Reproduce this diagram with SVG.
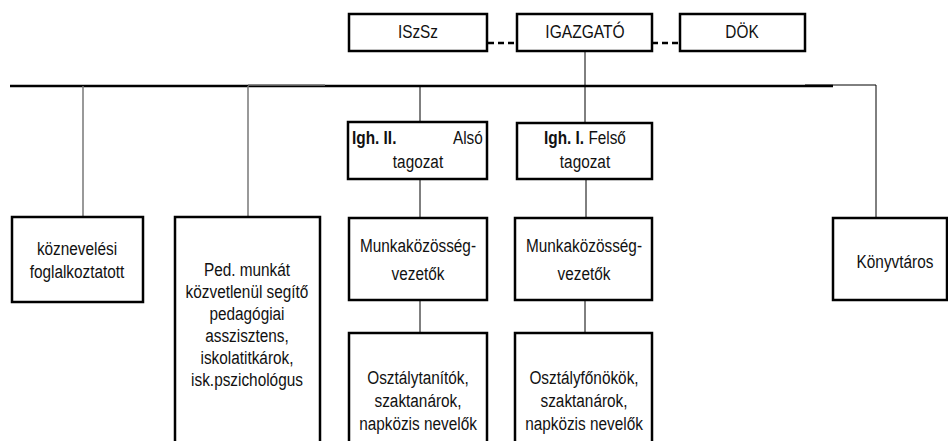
<svg xmlns="http://www.w3.org/2000/svg" width="948" height="441" viewBox="0 0 948 441">
<style>
.box{fill:#fff;stroke:#000;stroke-width:2.5}
.t{font-family:"Liberation Sans",Arial,sans-serif;font-size:18px;fill:#111;text-anchor:middle}
.s{text-anchor:start}
.b{font-weight:bold}
.ln{stroke:#000;stroke-width:1;fill:none}
.gr{stroke:#777;stroke-width:1.5;fill:none}
.main{stroke:#000;stroke-width:2.5;fill:none}
.dash{stroke:#000;stroke-width:2.5;stroke-dasharray:6 4;fill:none}
</style>
<rect width="948" height="441" fill="#fff"/>
<g id="connectors">
<line class="main" x1="10" y1="86" x2="833" y2="86"/>
<line class="gr" x1="248" y1="85" x2="325" y2="85"/>
<polyline class="ln" points="805,85 876,85 876,218"/>
<line class="dash" x1="488" y1="43" x2="517" y2="43"/>
<line class="dash" x1="652" y1="43" x2="680" y2="43"/>
<line class="ln" x1="585" y1="51" x2="585" y2="123"/>
<line class="ln" x1="420" y1="86" x2="420" y2="122"/>
<line class="gr" x1="83" y1="86" x2="83" y2="217"/>
<line class="gr" x1="248" y1="86" x2="248" y2="217"/>
<line class="ln" x1="420" y1="179" x2="420" y2="218"/>
<line class="ln" x1="420" y1="300" x2="420" y2="333"/>
<line class="ln" x1="586" y1="179" x2="586" y2="218"/>
<line class="ln" x1="585" y1="300" x2="585" y2="333"/>
</g>
<g id="iszsz"><rect class="box" x="349" y="14" width="138" height="37"/><text class="t" x="418" y="38" textLength="40.1" lengthAdjust="spacingAndGlyphs">ISzSz</text></g>
<g id="igazgato"><rect class="box" x="517" y="14" width="135" height="37"/><text class="t" x="585" y="38" textLength="79.4" lengthAdjust="spacingAndGlyphs">IGAZGATÓ</text></g>
<g id="dok"><rect class="box" x="680" y="14" width="125" height="37"/><text class="t" x="742" y="38" textLength="33.3" lengthAdjust="spacingAndGlyphs">DÖK</text></g>
<g id="igh2"><rect class="box" x="348" y="122" width="139" height="57"/>
<text class="t b s" x="352" y="144" textLength="44.4" lengthAdjust="spacingAndGlyphs">Igh. II.</text>
<text class="t s" x="453" y="144" textLength="29.8" lengthAdjust="spacingAndGlyphs">Alsó</text>
<text class="t" x="418" y="168" textLength="50.3" lengthAdjust="spacingAndGlyphs">tagozat</text></g>
<g id="igh1"><rect class="box" x="517" y="123" width="135" height="56"/>
<text class="t b s" x="544" y="144" textLength="40.1" lengthAdjust="spacingAndGlyphs">Igh. I.</text>
<text class="t s" x="588.4" y="144" textLength="37.5" lengthAdjust="spacingAndGlyphs">Felső</text>
<text class="t" x="585" y="168" textLength="50.3" lengthAdjust="spacingAndGlyphs">tagozat</text></g>
<g id="koznevelesi"><rect class="box" x="12" y="217" width="131" height="85"/>
<text class="t" x="77" y="255" textLength="80.2" lengthAdjust="spacingAndGlyphs">köznevelési</text>
<text class="t" x="77" y="278" textLength="94.7" lengthAdjust="spacingAndGlyphs">foglalkoztatott</text></g>
<g id="ped"><rect class="box" x="175" y="217" width="145" height="240"/>
<text class="t" x="247" y="276" textLength="86.2" lengthAdjust="spacingAndGlyphs">Ped. munkát</text>
<text class="t" x="247" y="298" textLength="122.8" lengthAdjust="spacingAndGlyphs">közvetlenül segítő</text>
<text class="t" x="247" y="320" textLength="75.1" lengthAdjust="spacingAndGlyphs">pedagógiai</text>
<text class="t" x="247" y="342" textLength="83.6" lengthAdjust="spacingAndGlyphs">asszisztens,</text>
<text class="t" x="247" y="364" textLength="93" lengthAdjust="spacingAndGlyphs">iskolatitkárok,</text>
<text class="t" x="247" y="386" textLength="111.8" lengthAdjust="spacingAndGlyphs">isk.pszichológus</text></g>
<g id="munka2"><rect class="box" x="349" y="218" width="138" height="82"/>
<text class="t" x="418" y="252" textLength="116" lengthAdjust="spacingAndGlyphs">Munkaközösség-</text>
<text class="t" x="418" y="280" textLength="52.9" lengthAdjust="spacingAndGlyphs">vezetők</text></g>
<g id="munka1"><rect class="box" x="515" y="218" width="137" height="82"/>
<text class="t" x="584" y="252" textLength="116" lengthAdjust="spacingAndGlyphs">Munkaközösség-</text>
<text class="t" x="584" y="280" textLength="52.9" lengthAdjust="spacingAndGlyphs">vezetők</text></g>
<g id="osztalytanitok"><rect class="box" x="349" y="333" width="138" height="130"/>
<text class="t" x="418" y="384" textLength="101.5" lengthAdjust="spacingAndGlyphs">Osztálytanítók,</text>
<text class="t" x="418" y="407" textLength="87" lengthAdjust="spacingAndGlyphs">szaktanárok,</text>
<text class="t" x="418" y="430" textLength="117.7" lengthAdjust="spacingAndGlyphs">napközis nevelők</text></g>
<g id="osztalyfonokok"><rect class="box" x="515" y="333" width="137" height="130"/>
<text class="t" x="584" y="384" textLength="109.2" lengthAdjust="spacingAndGlyphs">Osztályfőnökök,</text>
<text class="t" x="584" y="407" textLength="87" lengthAdjust="spacingAndGlyphs">szaktanárok,</text>
<text class="t" x="584" y="430" textLength="117.7" lengthAdjust="spacingAndGlyphs">napközis nevelők</text></g>
<g id="konyvtaros"><rect class="box" x="833" y="218" width="114" height="82"/>
<text class="t" x="895" y="268" textLength="76.8" lengthAdjust="spacingAndGlyphs">Könyvtáros</text></g>
</svg>
